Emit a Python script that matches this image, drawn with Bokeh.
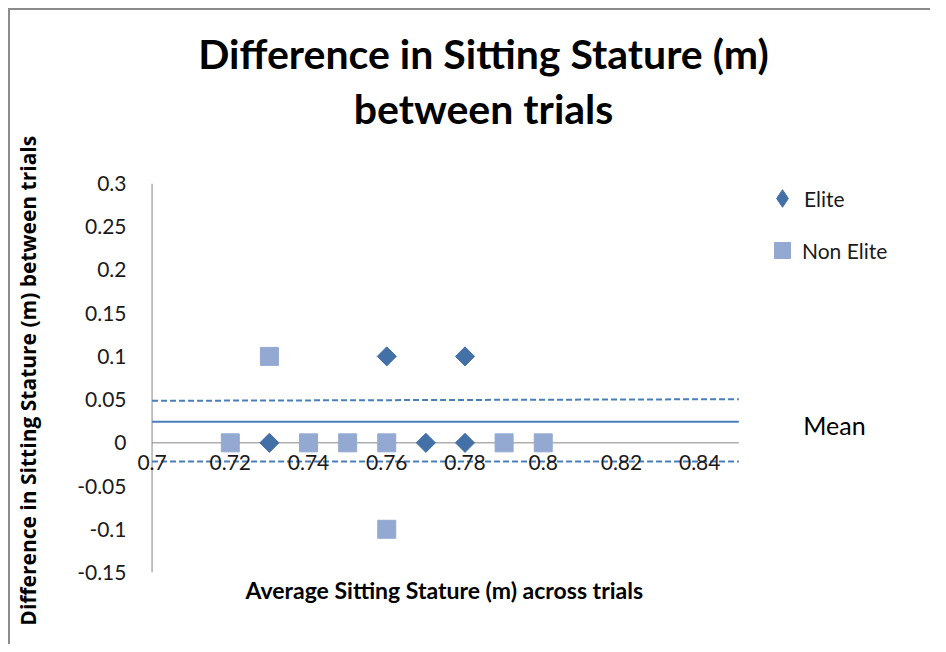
import math
from bokeh.plotting import figure
from bokeh.models import (Range1d, FixedTicker, CustomJSTickFormatter, Label,
                          Legend, LegendItem, Title)
from bokeh.embed import file_html
from bokeh.resources import INLINE

# ---- data -------------------------------------------------------------
title_line1 = "Difference in Sitting Stature (m)"
title_line2 = "between trials"
x_title = "Average Sitting Stature (m) across trials"
y_title = "Difference in Sitting Stature  (m) between trials"
mean_text = "Mean"

elite_x = [0.73, 0.76, 0.77, 0.78, 0.78]
elite_y = [0.0, 0.1, 0.0, 0.1, 0.0]
non_elite_x = [0.72, 0.73, 0.74, 0.75, 0.76, 0.76, 0.79, 0.80]
non_elite_y = [0.0, 0.1, 0.0, 0.0, 0.0, -0.1, 0.0, 0.0]

line_x = [0.70, 0.85]
mean_y = [0.0245, 0.0245]
upper_y = [0.0486, 0.0505]
lower_y = [-0.0215, -0.0215]

x_ticks = [0.70, 0.72, 0.74, 0.76, 0.78, 0.80, 0.82, 0.84]
y_ticks = [-0.15, -0.10, -0.05, 0.0, 0.05, 0.10, 0.15, 0.20, 0.25, 0.30]

# ---- figure -----------------------------------------------------------
FONT = "Lato"
p = figure(frame_width=798, frame_height=389, output_backend="svg", toolbar_location=None,
           x_range=Range1d(0.695, 0.899), y_range=Range1d(y_ticks[0], y_ticks[-1]),
           min_border_left=122, min_border_right=0,
           min_border_top=173, min_border_bottom=72)
p.styles = {"margin-left": "8px", "margin-top": "8px",
            "border-left": "2px solid #8c8c8c", "border-top": "2px solid #8c8c8c"}
p.grid.visible = False
p.outline_line_color = None
p.background_fill_color = "white"
p.border_fill_color = "white"

fmt = CustomJSTickFormatter(code="return Number(tick.toFixed(2)).toString();")

AXIS_GREY = "#868686"
xa = p.xaxis[0]
xa.fixed_location = 0
xa.ticker = FixedTicker(ticks=x_ticks)
xa.formatter = fmt
xa.axis_line_color = None
xa.major_tick_line_color = None
xa.minor_tick_line_color = None
xa.major_label_standoff = 6
xa.major_label_text_font = FONT
xa.major_label_text_font_size = "21px"
xa.major_label_text_color = "#1a1a1a"

ya = p.yaxis[0]
ya.ticker = FixedTicker(ticks=y_ticks)
ya.formatter = fmt
ya.axis_line_color = None
ya.major_tick_line_color = None
ya.minor_tick_line_color = None
ya.major_label_standoff = 0
ya.major_label_text_font = FONT
ya.major_label_text_font_size = "21px"
ya.major_label_text_color = "#1a1a1a"
ya.axis_label = y_title
ya.axis_label_text_font = "Open Sans"
ya.axis_label_text_font_style = "bold"
ya.axis_label_text_font_size = "21px"
ya.axis_label_text_color = "#000000"
ya.axis_label_standoff = 32

# axis lines drawn through the scales (y axis at x = 0.7, x axis at y = 0)
p.line([x_ticks[0], x_ticks[0]], [y_ticks[0], y_ticks[-1]], line_color=AXIS_GREY, line_width=1)
p.line([line_x[0], line_x[-1]], [0, 0], line_color=AXIS_GREY, line_width=1)

# ---- reference lines --------------------------------------------------
LINE_COLOR = "#4A7EBB"
p.line(line_x, mean_y, line_color=LINE_COLOR, line_width=2)
p.line(line_x, upper_y, line_color=LINE_COLOR, line_width=2, line_dash="6 3")
p.line(line_x, lower_y, line_color=LINE_COLOR, line_width=2, line_dash="6 3")

# ---- points -----------------------------------------------------------
ELITE = "#4470A8"
NON_ELITE = "#94A9D2"
r_non = p.scatter(non_elite_x, non_elite_y, marker="square", size=18,
                  fill_color=NON_ELITE, line_color=NON_ELITE)
r_elite = p.scatter(elite_x, elite_y, marker="square", angle=math.pi / 4, size=13.5,
                    fill_color=ELITE, line_color=ELITE)
# legend-only twin with a diamond marker (legend glyphs are not rotated)
r_elite_key = p.scatter(elite_x, elite_y, marker="diamond", size=18,
                        fill_color=ELITE, line_color=ELITE, visible=False)

legend_style = dict(orientation="vertical", padding=0, margin=0, label_standoff=0,
                    label_text_font=FONT, label_text_font_size="21px",
                    label_text_color="#1a1a1a", inactive_fill_alpha=0,
                    border_line_color=None, background_fill_alpha=0)
legend_elite = Legend(items=[LegendItem(label="Elite", renderers=[r_elite_key])],
                      location=(628, 352), glyph_width=44, glyph_height=44,
                      **legend_style)
legend_non = Legend(items=[LegendItem(label="Non Elite", renderers=[r_non])],
                    location=(630, 302), glyph_width=40, glyph_height=40,
                    **legend_style)
p.add_layout(legend_elite, "center")
p.add_layout(legend_non, "center")

# ---- texts ------------------------------------------------------------
p.add_layout(Label(x=702, y=mean_y[-1], x_units="screen", y_units="data",
                   text=mean_text, text_align="center", text_baseline="middle",
                   y_offset=-3, text_font=FONT, text_font_size="25px",
                   text_color="#000000"))

title_style = dict(align="center", standoff=0, text_font=FONT, text_font_size="41px",
                   text_font_style="bold", text_color="#000000")
# padding = (left, right, top, bottom): shifts the centred lines over the chart area
t2 = Title(text=title_line2, padding=(0, 96, 0, 51), **title_style)
t1 = Title(text=title_line1, padding=(0, 96, 0, 4), **title_style)
p.add_layout(t2, "above")
p.add_layout(t1, "above")

xt = Title(text=x_title, align="left", offset=113, standoff=2,
           text_font=FONT, text_font_size="23px", text_font_style="bold",
           text_color="#000000")
p.add_layout(xt, "below")

open("out.html", "w").write(file_html(p, INLINE))
